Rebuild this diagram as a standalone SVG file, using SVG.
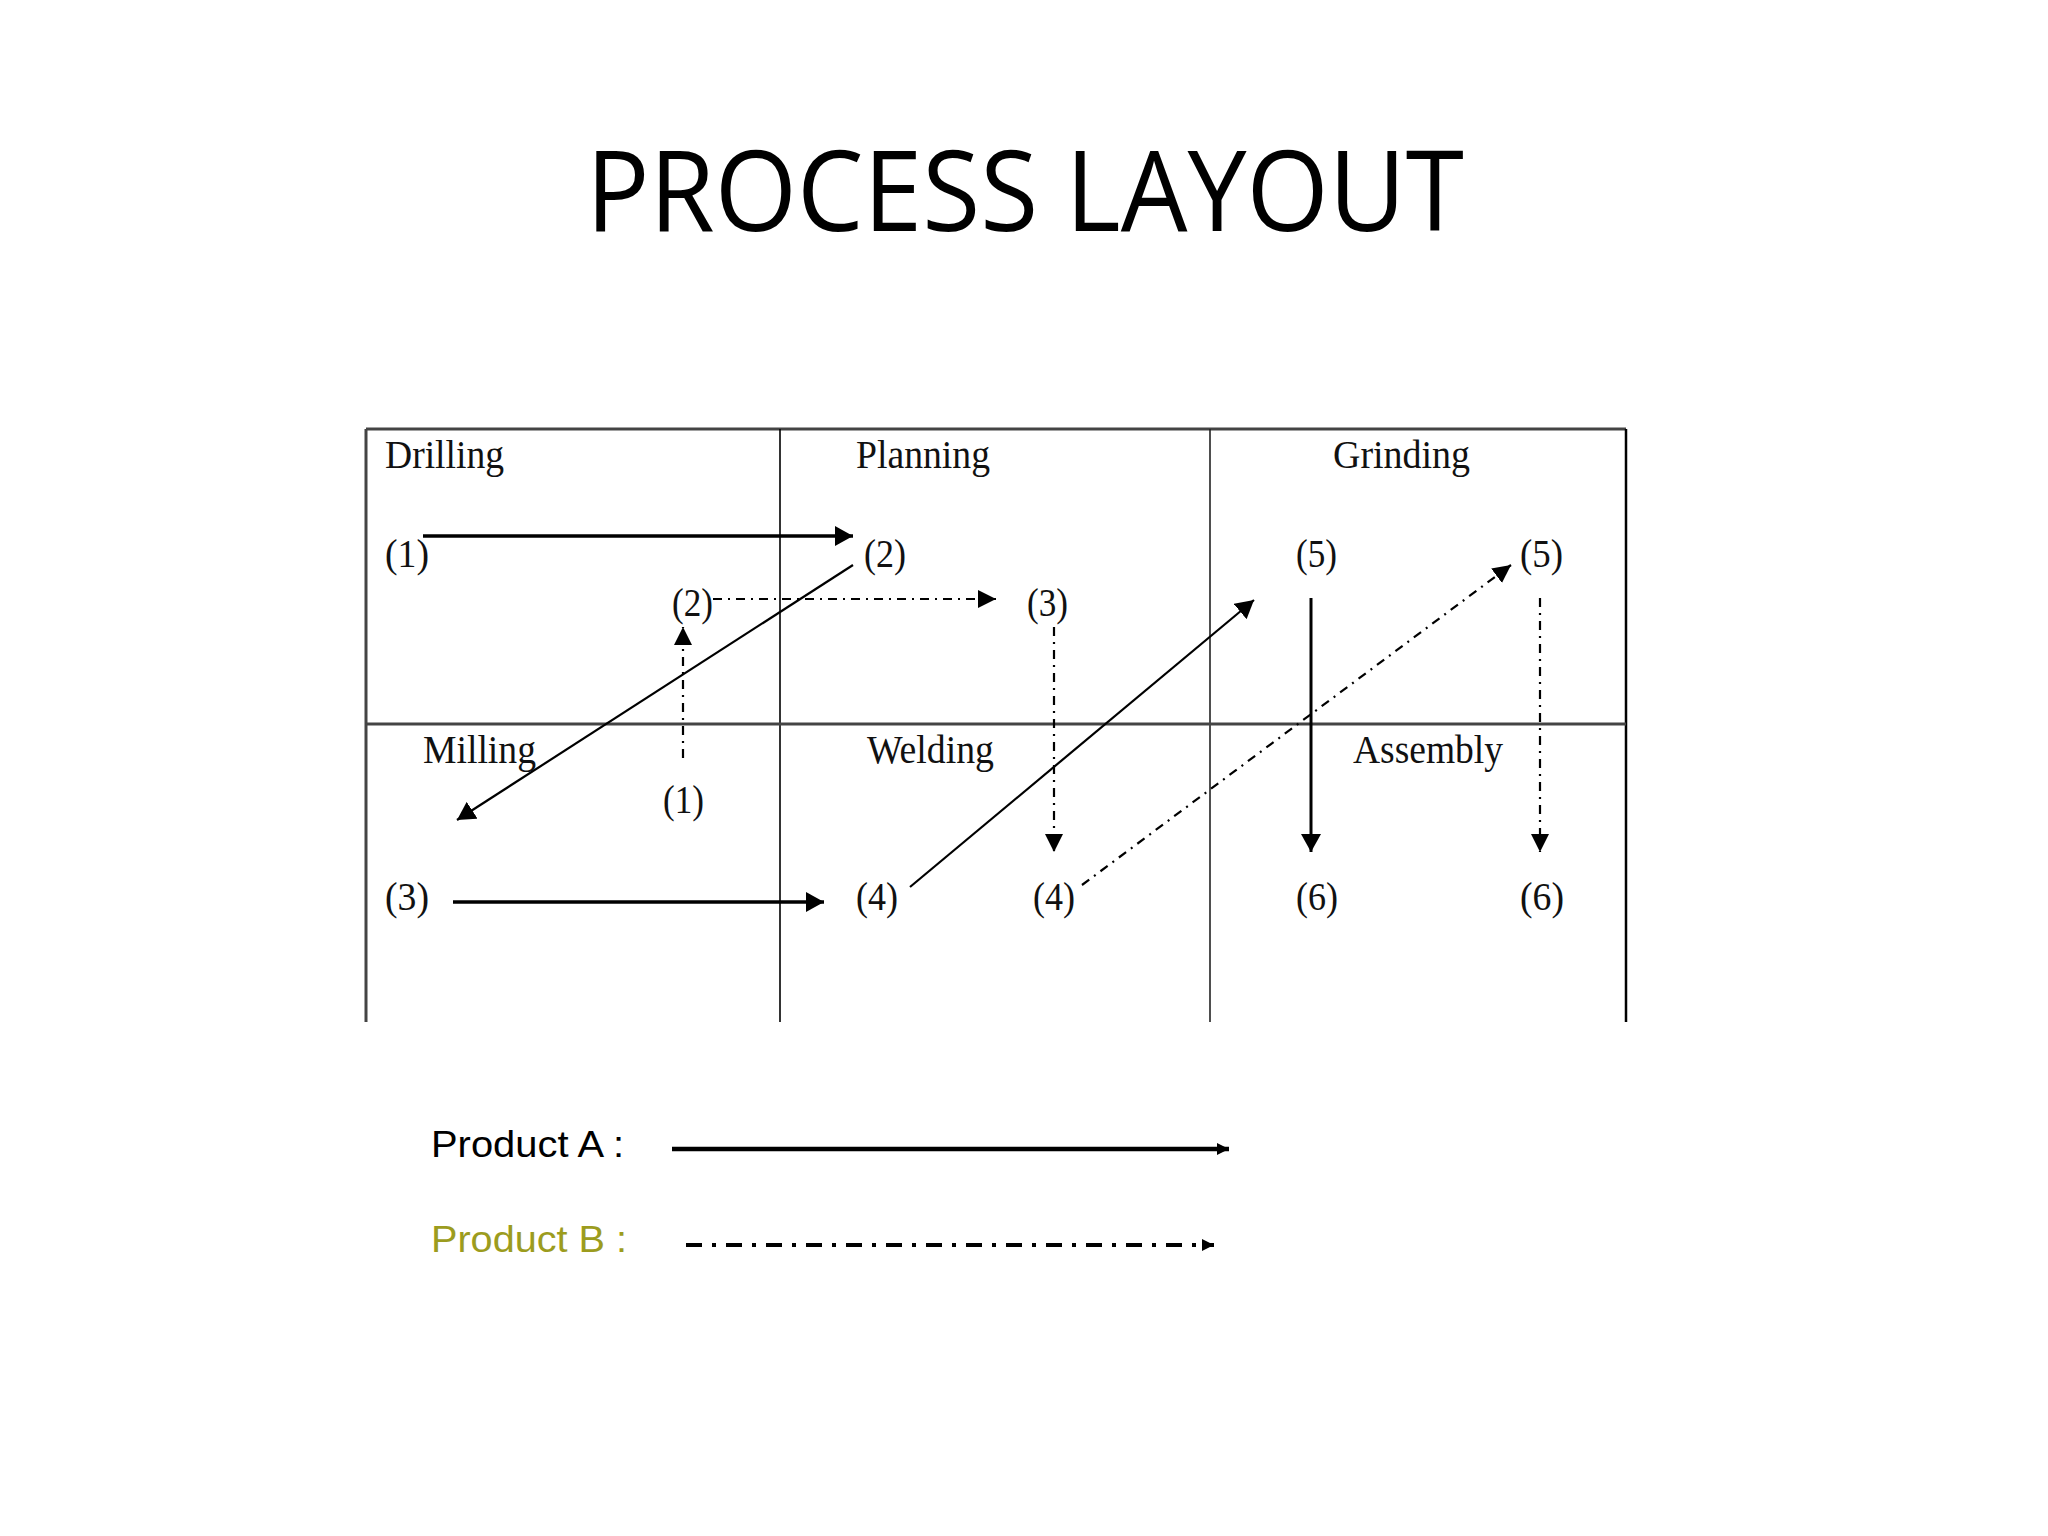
<svg xmlns="http://www.w3.org/2000/svg" width="2048" height="1536" viewBox="0 0 2048 1536">
<style>
.lbl{font-family:"Liberation Serif","Times New Roman",serif;font-size:41px;fill:#111}
.num{font-family:"Liberation Serif","Times New Roman",serif;font-size:41px;fill:#111}
.leg{font-family:"Liberation Sans",Arial,sans-serif;font-size:37px}
.a{stroke:#000;fill:none}
.b{stroke:#000;fill:none;stroke-width:2.2;stroke-dasharray:9 6 2 6}
</style>
<defs>
<marker id="ha" markerUnits="userSpaceOnUse" markerWidth="18" markerHeight="20" refX="18" refY="10" orient="auto"><path d="M0,0 L18,10 L0,20 z" fill="#000"/></marker>
<marker id="hb" markerUnits="userSpaceOnUse" markerWidth="18" markerHeight="18" refX="18" refY="9" orient="auto"><path d="M0,0 L18,9 L0,18 z" fill="#000"/></marker>
<marker id="hl" markerUnits="userSpaceOnUse" markerWidth="12" markerHeight="12" refX="12" refY="6" orient="auto"><path d="M0,0 L12,6 L0,12 z" fill="#000"/></marker>
</defs>
<rect width="2048" height="1536" fill="#fff"/>
<text x="586" y="231" font-family="'Open Sans','Noto Sans',sans-serif" font-size="112" textLength="878" lengthAdjust="spacingAndGlyphs" fill="#000">PROCESS LAYOUT</text>
<g id="grid">
<line x1="366" y1="429" x2="1626" y2="429" stroke="#444" stroke-width="3"/>
<line x1="366" y1="429" x2="366" y2="1022" stroke="#444" stroke-width="3"/>
<line x1="1626" y1="429" x2="1626" y2="1022" stroke="#000" stroke-width="2.5"/>
<line x1="780" y1="429" x2="780" y2="1022" stroke="#000" stroke-width="1.6"/>
<line x1="1210" y1="429" x2="1210" y2="1022" stroke="#222" stroke-width="1.6"/>
<line x1="366" y1="724" x2="1626" y2="724" stroke="#444" stroke-width="3"/>
</g>
<g id="dept-drilling"><text class="lbl" x="385" y="468" textLength="119" lengthAdjust="spacingAndGlyphs">Drilling</text></g>
<g id="dept-planning"><text class="lbl" x="856" y="468" textLength="134" lengthAdjust="spacingAndGlyphs">Planning</text></g>
<g id="dept-grinding"><text class="lbl" x="1333" y="468" textLength="137" lengthAdjust="spacingAndGlyphs">Grinding</text></g>
<g id="dept-milling"><text class="lbl" x="423" y="763" textLength="113" lengthAdjust="spacingAndGlyphs">Milling</text></g>
<g id="dept-welding"><text class="lbl" x="867" y="763" textLength="127" lengthAdjust="spacingAndGlyphs">Welding</text></g>
<g id="dept-assembly"><text class="lbl" x="1353" y="763" textLength="150" lengthAdjust="spacingAndGlyphs">Assembly</text></g>
<g id="a1"><text class="num" x="385" y="567" textLength="44" lengthAdjust="spacingAndGlyphs">(1)</text></g>
<g id="a2"><text class="num" x="864" y="567" textLength="42" lengthAdjust="spacingAndGlyphs">(2)</text></g>
<g id="b2"><text class="num" x="672" y="616" textLength="41" lengthAdjust="spacingAndGlyphs">(2)</text></g>
<g id="b3"><text class="num" x="1027" y="616" textLength="41" lengthAdjust="spacingAndGlyphs">(3)</text></g>
<g id="a5"><text class="num" x="1296" y="567" textLength="41" lengthAdjust="spacingAndGlyphs">(5)</text></g>
<g id="b5"><text class="num" x="1520" y="567" textLength="43" lengthAdjust="spacingAndGlyphs">(5)</text></g>
<g id="b1"><text class="num" x="663" y="813" textLength="41" lengthAdjust="spacingAndGlyphs">(1)</text></g>
<g id="a3"><text class="num" x="385" y="910" textLength="44" lengthAdjust="spacingAndGlyphs">(3)</text></g>
<g id="a4"><text class="num" x="856" y="910" textLength="42" lengthAdjust="spacingAndGlyphs">(4)</text></g>
<g id="b4"><text class="num" x="1033" y="910" textLength="42" lengthAdjust="spacingAndGlyphs">(4)</text></g>
<g id="a6"><text class="num" x="1296" y="910" textLength="42" lengthAdjust="spacingAndGlyphs">(6)</text></g>
<g id="b6"><text class="num" x="1520" y="910" textLength="44" lengthAdjust="spacingAndGlyphs">(6)</text></g>
<g id="connectors">
<line class="a" x1="423" y1="536" x2="853" y2="536" stroke-width="3.5" marker-end="url(#ha)"/>
<line class="a" x1="853" y1="565" x2="457" y2="820" stroke-width="2.2" marker-end="url(#ha)"/>
<line class="a" x1="453" y1="902" x2="824" y2="902" stroke-width="3.5" marker-end="url(#ha)"/>
<line class="a" x1="910" y1="887" x2="1254" y2="600" stroke-width="2.2" marker-end="url(#ha)"/>
<line class="a" x1="1311" y1="598" x2="1311" y2="852" stroke-width="3" marker-end="url(#ha)"/>
<line class="b" x1="683" y1="758" x2="683" y2="627" stroke-dasharray="10 8" marker-end="url(#hb)"/>
<line class="b" x1="713" y1="599" x2="996" y2="599" marker-end="url(#hb)"/>
<line class="b" x1="1054" y1="627" x2="1054" y2="852" marker-end="url(#hb)"/>
<line class="b" x1="1082" y1="885" x2="1511" y2="565" stroke-dasharray="6 7 2 7" marker-end="url(#hb)"/>
<line class="b" x1="1540" y1="598" x2="1540" y2="852" stroke-width="1.8" marker-end="url(#hb)"/>
</g>
<g id="legend">
<text class="leg" x="431" y="1157" textLength="193" lengthAdjust="spacingAndGlyphs" fill="#000">Product A :</text>
<line x1="672" y1="1149" x2="1229" y2="1149" stroke="#000" stroke-width="4.5" marker-end="url(#hl)"/>
<text class="leg" x="431" y="1252" textLength="196" lengthAdjust="spacingAndGlyphs" fill="#9c9c1e">Product B :</text>
<line x1="686" y1="1245" x2="1214" y2="1245" stroke="#000" stroke-width="4" stroke-dasharray="16 10 4 10" marker-end="url(#hl)"/>
</g>
</svg>
